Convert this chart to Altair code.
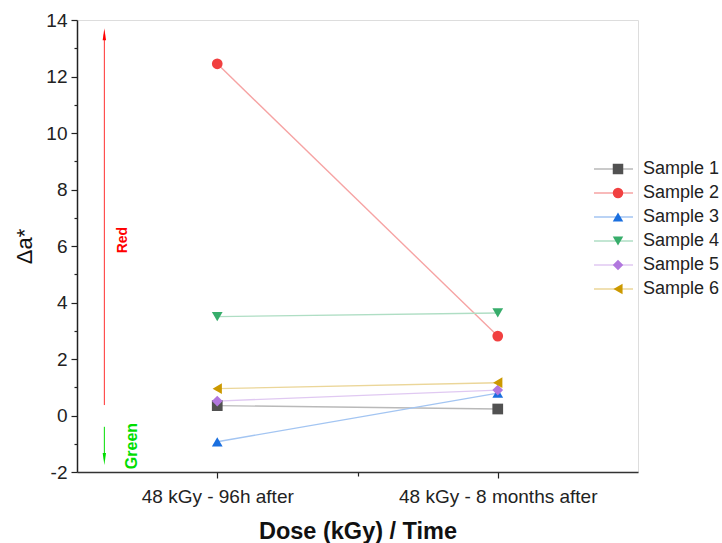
import altair as alt
import pandas as pd

samples = ["Sample 1", "Sample 2", "Sample 3", "Sample 4", "Sample 5", "Sample 6"]
times = ["48 kGy - 96h after", "48 kGy - 8 months after"]
time_pos = [1, 2]
val_96h = [0.35, 12.45, -0.93, 3.50, 0.51, 0.95]
val_8m = [0.23, 2.81, 0.79, 3.63, 0.90, 1.16]

marker_colors = ["#515151", "#F14040", "#1A6FDF", "#37AD6B", "#B177DE", "#CC9900"]
line_colors = ["#b9b9b9", "#f6a3a3", "#a3c5f2", "#afdec4", "#e0c9f2", "#ebd699"]
shapes = ["square", "circle", "triangle-up", "triangle-down", "diamond", "triangle-left"]

# annotation arrows (Red / Green direction)
arrow_x = [0.5975]
red_arrow_y = [0.37, 13.5]
green_arrow_y = [-0.4, -1.54]
note_text = ["Red", "Green"]
note_x = [0.664, 0.695]
note_y = [6.21, -1.08]

FONT = "Liberation Sans"

rows = []
for i, s in enumerate(samples):
    for p, v in zip(time_pos, [val_96h[i], val_8m[i]]):
        rows.append({"series": s, "series_m": s, "pos": p, "value": v, "order": i})
df = pd.DataFrame(rows)

xscale = alt.Scale(domain=[0.5, 2.5], nice=False, zero=False)
yscale = alt.Scale(domain=[-2, 14], nice=False, zero=False)

label_expr = f"datum.value == 1 ? '{times[0]}' : '{times[1]}'"

x_main = alt.X("pos:Q", scale=xscale, axis=alt.Axis(
    values=time_pos, labelExpr=label_expr, grid=False, orient="bottom", labelLimit=0,
    tickSize=6, tickColor="#222", domainColor="#333", domainWidth=1.5, tickWidth=1.2,
    labelFontSize=19, labelFont=FONT, labelColor="#222", labelPadding=9,
    title="Dose (kGy) / Time", titleFont=FONT, titleFontSize=23.5, titleFontWeight="bold",
    titleColor="#111", titlePadding=13))
y_main = alt.Y("value:Q", scale=yscale, axis=alt.Axis(
    values=list(range(-2, 15, 2)), labelExpr="datum.value + ''", grid=False, orient="left",
    tickSize=6, tickColor="#222", domainColor="#222", domainWidth=1.5, tickWidth=1.2,
    labelFontSize=19, labelFont=FONT, labelColor="#222", labelPadding=4,
    title="Δa*", titleFont=FONT, titleFontSize=22, titleFontWeight="normal",
    titleColor="#111", titlePadding=9))

line_legend = alt.Legend(orient="none", legendX=516, legendY=138, title=None,
                         symbolType="stroke", symbolSize=1521, symbolStrokeWidth=1.5,
                         symbolOpacity=1, clipHeight=22, rowPadding=2, padding=0,
                         labelFontSize=18, labelFont=FONT, labelColor="#222", labelOffset=9)
marker_legend = alt.Legend(orient="none", legendX=532, legendY=138, title=None,
                           symbolSize=110, symbolStrokeWidth=0, symbolOpacity=1,
                           clipHeight=22, rowPadding=2, padding=0,
                           labelExpr="''", labelFontSize=18, labelFont=FONT, labelOffset=0)

lines = alt.Chart(df).mark_line(strokeWidth=1.4).encode(
    x=x_main, y=y_main,
    color=alt.Color("series:N", scale=alt.Scale(domain=samples, range=line_colors), legend=line_legend),
    detail="series:N",
)

# marker scales use the data-derived domain so that their legend stays separate from the line legend
points = alt.Chart(df).mark_point(filled=True, size=115, opacity=1, strokeWidth=0).encode(
    x=alt.X("pos:Q", scale=xscale, axis=None),
    y=alt.Y("value:Q", scale=yscale, axis=None),
    fill=alt.Fill("series_m:N", scale=alt.Scale(range=marker_colors), legend=marker_legend),
    shape=alt.Shape("series_m:N", scale=alt.Scale(range=shapes), legend=marker_legend),
    order="order:Q",
)

minor = alt.Chart(df).mark_point(opacity=0).encode(
    x=alt.X("pos:Q", scale=xscale, axis=alt.Axis(values=[1.5], labels=False, domain=False, grid=False,
                                                 tickSize=4, tickColor="#222", tickWidth=1.2,
                                                 title=None, orient="bottom")),
    y=alt.Y("value:Q", scale=yscale, axis=alt.Axis(values=list(range(-1, 14, 2)), labels=False, domain=False,
                                                   grid=False, tickSize=3, tickColor="#222", tickWidth=1.2,
                                                   title=None, orient="left")),
)

arrows_df = pd.DataFrame({
    "x": arrow_x * 2,
    "y1": [red_arrow_y[0], green_arrow_y[0]],
    "y2": [red_arrow_y[1], green_arrow_y[1]],
    "kind": ["red", "green"],
})
red_df = arrows_df[arrows_df.kind == "red"]
green_df = arrows_df[arrows_df.kind == "green"]

def ax(field):
    return alt.X(field, scale=xscale, axis=None)

def ay(field):
    return alt.Y(field, scale=yscale, axis=None)

red_rule = alt.Chart(red_df).mark_rule(color="#ff3030", strokeWidth=1).encode(
    x=ax("x:Q"), y=ay("y1:Q"), y2="y2:Q")
red_head = alt.Chart(red_df).mark_point(filled=True, opacity=1, color="#ff0000", size=144,
                                        shape="M0,-1L0.28,1L-0.28,1Z").encode(
    x=ax("x:Q"), y=ay("y2:Q"))
green_rule = alt.Chart(green_df).mark_rule(color="#00dd00", strokeWidth=1).encode(
    x=ax("x:Q"), y=ay("y1:Q"), y2="y2:Q")
green_head = alt.Chart(green_df).mark_point(filled=True, opacity=1, color="#00dd00", size=144,
                                            shape="M0,1L0.28,-1L-0.28,-1Z").encode(
    x=ax("x:Q"), y=ay("y2:Q"))

notes_df = pd.DataFrame({"text": note_text, "x": note_x, "y": note_y})
red_note = alt.Chart(notes_df.iloc[[0]]).mark_text(angle=270, font=FONT, fontSize=14, fontWeight="bold",
                                                   color="#ff0000", baseline="middle", align="center").encode(
    x=ax("x:Q"), y=ay("y:Q"), text="text:N")
green_note = alt.Chart(notes_df.iloc[[1]]).mark_text(angle=270, font=FONT, fontSize=16, fontWeight="bold",
                                                     color="#00dd00", baseline="middle", align="center").encode(
    x=ax("x:Q"), y=ay("y:Q"), text="text:N")

chart = alt.layer(
    minor, red_rule, red_head, green_rule, green_head, red_note, green_note, lines, points
).resolve_axis(x="independent", y="independent").properties(
    width=561, height=452,
    padding={"left": 77, "top": 20, "right": 84, "bottom": 71},
    autosize=alt.AutoSizeParams(type="none"),
).configure_view(stroke=None).configure(font=FONT, background="white")

chart.save("out.html", embed_options={"renderer": "svg", "actions": False})
